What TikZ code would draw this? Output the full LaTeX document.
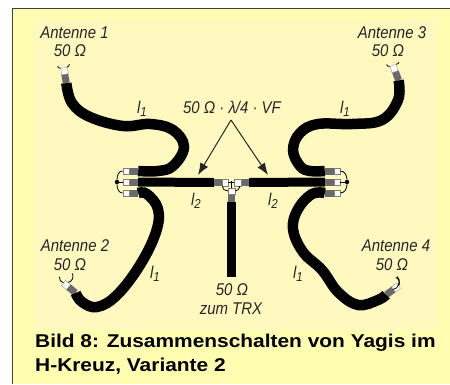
\documentclass[tikz,border=0pt]{standalone}
\usepackage{fontspec}
\setmainfont{Liberation Sans}
\newfontfamily\condfont[FakeStretch=0.88]{Liberation Sans}
\newfontfamily\capfont[FakeStretch=1.13]{Liberation Sans}
\usetikzlibrary{arrows.meta}
\definecolor{paperout}{HTML}{FFFDB0}
\definecolor{paperin}{HTML}{FFF9C0}
\definecolor{shieldgray}{HTML}{6A6A6A}
\def\lab#1#2{#1\raisebox{-3pt}{\fontsize{13}{13}\selectfont #2}}
\tikzset{
    cable/.style={line width=10.5pt},
    feeder/.style={line width=9pt},
    shield/.style={fill=shieldgray,inner sep=0pt,minimum width=#1},
    shield/.default=7pt,
    plug/.style={fill=white,draw=gray,line width=0.3pt,inner sep=0pt,minimum width=6.5pt,minimum height=6.5pt},
    wire/.style={line width=0.8pt},
    dot/.style={circle,fill=black,inner sep=0pt,minimum size=4.5pt},
    txt/.style={font=\condfont\itshape\fontsize{17}{18}\selectfont,align=center,inner sep=0pt,text=black!85},
    pointer/.style={-{Latex[length=12pt,width=9pt]},line width=1pt,black!85}
}
\begin{document}
\begin{tikzpicture}[x=1pt,y=-1pt]
    \useasboundingbox (0,0) rectangle (450,384);
    \fill[white] (0,0) rectangle (450,384);
    \fill[paperout] (12,8) rectangle (450,384);
    \fill[paperin] (34,19) rectangle (438,330);
    \draw[line width=1pt,black!75] (12,384) -- (12,8.5) -- (450,8.5);

    % left group
    \node[shield,minimum width=9pt,minimum height=7pt] (SL1) at (133.5,171) {};
    \node[shield,minimum width=9pt,minimum height=7pt] (SL2) at (133.5,182) {};
    \node[shield,minimum width=9pt,minimum height=7pt] (SL3) at (133.5,193) {};
    \node[plug] (PL1) at (126,171) {};
    \node[plug] (PL2) at (126,182) {};
    \node[plug] (PL3) at (126,193) {};
    \node[dot] (DL) at (117,182) {};
    \draw[wire] (PL2.west) -- (DL);
    \draw[wire] (PL1.west) to[out=180,in=90] (DL);
    \draw[wire] (PL3.west) to[out=180,in=-90] (DL);

    % right group
    \node[shield,minimum width=9pt,minimum height=7pt] (SR1) at (329.5,171) {};
    \node[shield,minimum width=9pt,minimum height=7pt] (SR2) at (329.5,182) {};
    \node[shield,minimum width=9pt,minimum height=7pt] (SR3) at (329.5,193) {};
    \node[plug] (PR1) at (337,171) {};
    \node[plug] (PR2) at (337,182) {};
    \node[plug] (PR3) at (337,193) {};
    \node[dot] (DR) at (347,182) {};
    \draw[wire] (PR2.east) -- (DR);
    \draw[wire] (PR1.east) to[out=0,in=90] (DR);
    \draw[wire] (PR3.east) to[out=0,in=-90] (DR);

    % centre tee
    \node[shield,minimum width=8pt,minimum height=7pt] (SC1) at (218,182.5) {};
    \node[shield,minimum width=9pt,minimum height=7pt] (SC2) at (244.5,182.5) {};
    \node[shield,minimum width=7pt,minimum height=8pt] (SC3) at (231.5,198) {};
    \node[plug] (PC1) at (225,182.5) {};
    \node[plug] (PC2) at (237.5,182.5) {};
    \node[plug] (PC3) at (231.5,191) {};
    \coordinate (TC) at (231.5,181);
    \draw[wire] (PC1.east) -- (PC2.west);
    \draw[wire] (TC) -- (PC3.north);
    \draw[wire] (SC1.south east) to[out=-90,in=180] (PC3.west);
    \draw[wire] (SC2.south west) to[out=-90,in=0] (PC3.east);

    % antenna ends
    \node[shield,minimum height=9pt,rotate=10] (SA1) at (65.5,78.5) {};
    \node[plug,rotate=10] (PA1) at (64.5,71) {};
    \node[shield,minimum height=9pt,rotate=50] (SA2) at (72,290) {};
    \node[plug,rotate=50] (PA2) at (66,285) {};
    \node[shield,minimum height=9pt,rotate=20] (SA3) at (397,76) {};
    \node[plug,rotate=20] (PA3) at (394,68.5) {};
    \node[shield,minimum height=9pt,rotate=-55] (SA4) at (390,292) {};
    \node[plug,rotate=-55] (PA4) at (396,287.5) {};
    \draw[wire] (PA1.north west) to[bend left=40] ++(-3,-2);
    \draw[wire] (PA1.north east) to[bend right=40] ++(2,-3);
    \draw[wire] (PA2.north) to[bend left=40] ++(-4,-6);
    \draw[wire] (PA2.east) to[bend right=60] ++(4,-9);
    \draw[wire] (PA3.north west) to[bend left=40] ++(-3,-2);
    \draw[wire] (PA3.north east) to[bend right=40] ++(3,-2);
    \draw[wire] (PA4.north) to[bend right=50] ++(-3,-8);
    \draw[wire] (PA4.south) to[bend right=70] ++(4,-13);

    % cables
    \draw[cable] plot[smooth,tension=0.65] coordinates {(SA1.south) (72,103) (90,117) (123,126) (150,124) (173,130) (184,147) (173,166) (158,171) (SL1.east)};
    \draw[cable] plot[smooth,tension=0.65] coordinates {(SL3.east) (147,194) (158,209) (156,232) (140,265) (117,295) (97,307) (82,302) (SA2.south)};
    \draw[cable] plot[smooth,tension=0.65] coordinates {(SA3.south) (398,100) (382,120) (352,124) (318,124) (300,133) (293,150) (300,166) (310,171) (SR1.west)};
    \draw[cable] plot[smooth,tension=0.65] coordinates {(SR3.west) (312,194) (298,209) (293,229) (303,252) (322,270) (338,292) (358,305) (378,300) (SA4.south)};
    \draw[feeder] (SL2.east) -- (SC1.west);
    \draw[feeder] (SC2.east) -- (SR2.west);
    \coordinate (TRX) at (231.5,277);
    \draw[feeder] (SC3.south) -- (TRX);

    % labels
    \node[txt] (A1) at (74.5,33) {Antenne 1};
    \node[txt] (Z1) at (70,51) {50 Ω};
    \node[txt] (A3) at (392,33) {Antenne 3};
    \node[txt] (Z3) at (388,51) {50 Ω};
    \node[txt] (A2) at (75,246) {Antenne 2};
    \node[txt] (Z2) at (70,265) {50 Ω};
    \node[txt] (A4) at (396,246) {Antenne 4};
    \node[txt] (Z4) at (392,265) {50 Ω};
    \node[txt] (L1a) at (142,109) {\lab{l}{1}};
    \node[txt] (L1b) at (345,109) {\lab{l}{1}};
    \node[txt] (L1c) at (155,274) {\lab{l}{1}};
    \node[txt] (L1d) at (298,274) {\lab{l}{1}};
    \node[txt] (L2a) at (196,201) {\lab{l}{2}};
    \node[txt] (L2b) at (273,201) {\lab{l}{2}};
    \node[txt] (VF) at (232,107.5) {50 Ω · λ/4 · VF};
    \node[txt] (Z5) at (232,290) {50 Ω};
    \node[txt] (TR) at (231,309) {zum TRX};

    % arrows
    \coordinate (AP) at (231,120);
    \coordinate (TL) at (198,175);
    \coordinate (TR2) at (268,175);
    \draw[pointer] (AP) -- (TL);
    \draw[pointer] (AP) -- (TR2);

    \node[anchor=base west,inner sep=0pt,align=left,font=\capfont\bfseries\fontsize{18.5}{24}\selectfont] (CAP) at (35,371) {Bild 8: Zusammenschalten von Yagis im\\H-Kreuz, Variante 2};
\end{tikzpicture}
\end{document}
